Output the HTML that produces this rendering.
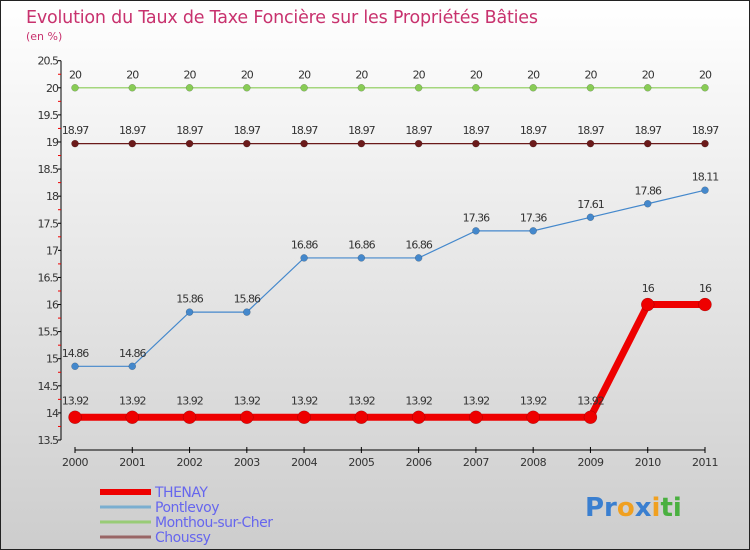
<!DOCTYPE html>
<html><head><meta charset="utf-8"><style>
body{margin:0}
svg{display:block;font-family:"DejaVu Sans","Liberation Sans",sans-serif}
</style></head><body>
<svg width="750" height="550" xmlns="http://www.w3.org/2000/svg">
<defs><linearGradient id="bg" x1="0" y1="0" x2="0" y2="1"><stop offset="0" stop-color="#ffffff"/><stop offset="1" stop-color="#cdcdcd"/></linearGradient></defs>
<rect x="0.5" y="0.5" width="749" height="549" fill="url(#bg)" stroke="#222"/>
<text x="26" y="23" font-size="17.5" fill="#c8326e" letter-spacing="-0.2">Evolution du Taux de Taxe Foncière sur les Propriétés Bâties</text>
<text x="26" y="40" font-size="11" fill="#c8326e">(en %)</text>
<g id="axes"></g>
<g id="series"></g>
<g id="legend"></g>
<text x="585" y="516" font-size="26" font-weight="bold"><tspan fill="#3a7fd0">Pr</tspan><tspan fill="#f0a020">o</tspan><tspan fill="#3a7fd0">x</tspan><tspan fill="#f0a020">i</tspan><tspan fill="#4ab040">ti</tspan></text>
</svg>
<script>
const years=[2000,2001,2002,2003,2004,2005,2006,2007,2008,2009,2010,2011];
const thenay=[13.92,13.92,13.92,13.92,13.92,13.92,13.92,13.92,13.92,13.92,16,16];
const pontlevoy=[14.86,14.86,15.86,15.86,16.86,16.86,16.86,17.36,17.36,17.61,17.86,18.11];
const monthou=[20,20,20,20,20,20,20,20,20,20,20,20];
const choussy=[18.97,18.97,18.97,18.97,18.97,18.97,18.97,18.97,18.97,18.97,18.97,18.97];
const yTicks=[13.5,14,14.5,15,15.5,16,16.5,17,17.5,18,18.5,19,19.5,20,20.5];
const NS="http://www.w3.org/2000/svg";
const X=i=>75+i*(705-75)/11;
const Y=v=>440-(v-13.5)*(440-60.7)/7;
function mk(tag,attrs,parent,text){const e=document.createElementNS(NS,tag);for(const k in attrs)e.setAttribute(k,attrs[k]);if(text!==undefined)e.textContent=text;parent.appendChild(e);return e;}
const ax=document.getElementById('axes');
let yl=mk('line',{x1:61,y1:Y(20.5),x2:61,y2:Y(13.5),stroke:'#000'},ax);


yTicks.forEach(t=>{
  let tk=mk('line',{x1:58,y1:Y(t),x2:61,y2:Y(t),stroke:'#000'},ax);
  
  
  let mt=mk('line',{x1:58,y1:Y(t+0.25),x2:61,y2:Y(t+0.25),stroke:'#e00'},ax);
  if(t>=20.5)mt.remove();
  
  
  let lb=mk('text',{x:58,y:Y(t)+4,'font-size':11,fill:'#333','text-anchor':'end','letter-spacing':'-1'},ax,String(t));
  
  
});
let xl=mk('line',{x1:X(0),y1:450,x2:X(11),y2:450,stroke:'#000'},ax);


years.forEach((yr,i)=>{
  let tk=mk('line',{x1:X(i),y1:447,x2:X(i),y2:453,stroke:'#000'},ax);
  
  
  let lb=mk('text',{x:X(i),y:466,'font-size':11,fill:'#333','text-anchor':'middle','letter-spacing':'-0.5'},ax,String(yr));
  
  
});
const sg=document.getElementById('series');
function series(vals,color,w,r,name){
  const g=mk('g',{},sg);
  
  
  const ln=mk('polyline',{points:vals.map((v,i)=>X(i)+','+Y(v)).join(' '),fill:'none',stroke:color,'stroke-width':w},g);
  
  
  vals.forEach((v,i)=>{
    const c=mk('circle',{cx:X(i),cy:Y(v),r:r,fill:color,stroke:'rgba(0,0,0,0.3)','stroke-width':0.5},g);
    
    
    const t=mk('text',{x:X(i),y:Y(v)-(r+6),'font-size':11,fill:'#333','text-anchor':'middle','letter-spacing':'-1'},g,String(v));
    
    
  });
}
series(monthou,'#88cc55',1.2,3.5,'monthou');
series(choussy,'#6b1a1a',1.2,3.5,'choussy');
series(pontlevoy,'#4488cc',1.2,3.5,'pontlevoy');
series(thenay,'#ee0000',7,6.5,'thenay');
const lg=document.getElementById('legend');
const leg=[['THENAY','#ee0000',6],['Pontlevoy','#7aaed0',3],['Monthou-sur-Cher','#99cc77',3],['Choussy','#996666',3]];
leg.forEach((d,i)=>{
  const y=492+i*15;
  const l=mk('line',{x1:100,y1:y,x2:151,y2:y,stroke:d[1],'stroke-width':d[2]},lg);
  
  
  const t=mk('text',{x:155,y:y+5,'font-size':14,fill:'#6666ee','letter-spacing':'-0.5'},lg,d[0]);
  
  
});
</script>
</body></html>
